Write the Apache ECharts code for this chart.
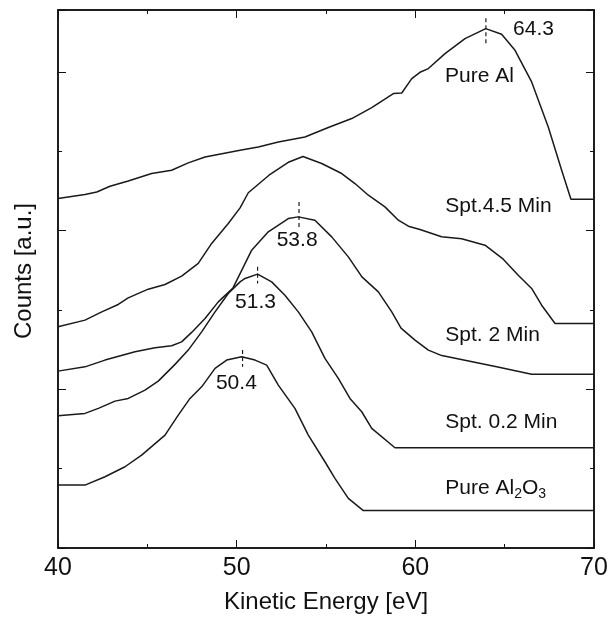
<!DOCTYPE html>
<html>
<head>
<meta charset="utf-8">
<script src="https://cdn.jsdelivr.net/npm/echarts@6/dist/echarts.min.js"></script>
<style>
  html, body { margin: 0; padding: 0; background: #fff; }
  #chart { width: 611px; height: 621px; }
</style>
</head>
<body>
<div id="chart"></div>
<script>
// kinetic energy (eV) and counts (a.u., offset stacked)
const pureAlEnergy = [40.0, 41.51, 42.17, 42.91, 43.93, 45.24, 46.36, 47.29, 48.23, 50.19, 51.21, 52.33, 53.82, 55.13, 56.44, 57.56, 58.77, 59.24, 59.80, 60.26, 60.73, 61.66, 62.78, 63.94, 64.83, 65.58, 66.51, 67.44, 68.19, 68.71, 70.0];
const pureAlCounts = [4.404, 4.455, 4.487, 4.559, 4.626, 4.719, 4.761, 4.853, 4.928, 5.013, 5.054, 5.117, 5.180, 5.299, 5.412, 5.550, 5.727, 5.734, 5.916, 5.995, 6.042, 6.230, 6.420, 6.545, 6.474, 6.272, 5.873, 5.306, 4.761, 4.395, 4.395];

const spt45Energy = [40.0, 41.51, 42.45, 43.37, 43.93, 45.05, 45.99, 46.92, 47.85, 48.60, 49.53, 50.19, 50.65, 51.81, 52.93, 53.71, 54.76, 55.88, 56.62, 57.37, 58.30, 59.05, 59.61, 60.26, 61.47, 62.59, 63.90, 64.92, 65.76, 66.51, 67.07, 67.82, 70.0];
const spt45Counts = [2.787, 2.872, 2.976, 3.069, 3.152, 3.262, 3.321, 3.426, 3.586, 3.838, 4.089, 4.286, 4.477, 4.698, 4.865, 4.933, 4.845, 4.719, 4.593, 4.446, 4.299, 4.131, 4.055, 4.014, 3.923, 3.898, 3.816, 3.640, 3.438, 3.271, 3.060, 2.830, 2.830];

const spt2Energy = [40.0, 41.51, 42.63, 44.31, 45.43, 46.36, 46.92, 47.48, 48.23, 48.97, 49.79, 50.84, 51.77, 52.89, 53.45, 54.38, 55.32, 56.25, 57.01, 57.93, 58.68, 59.20, 59.98, 60.73, 61.48, 64.55, 66.51, 70.0];
const spt2Counts = [2.229, 2.283, 2.368, 2.472, 2.523, 2.548, 2.598, 2.717, 2.893, 3.102, 3.275, 3.753, 3.984, 4.152, 4.173, 4.131, 3.921, 3.669, 3.417, 3.228, 2.976, 2.771, 2.620, 2.494, 2.425, 2.283, 2.189, 2.189];

const spt02Energy = [40.0, 41.51, 42.26, 43.19, 43.93, 44.87, 45.61, 46.55, 47.29, 48.04, 48.79, 49.53, 50.19, 50.47, 51.17, 51.96, 52.70, 53.45, 54.20, 54.94, 55.69, 56.34, 57.00, 57.56, 58.86, 70.0];
const spt02Counts = [1.666, 1.696, 1.759, 1.851, 1.885, 1.990, 2.103, 2.314, 2.494, 2.724, 2.976, 3.208, 3.354, 3.397, 3.451, 3.354, 3.186, 2.976, 2.724, 2.389, 2.137, 1.885, 1.717, 1.508, 1.263, 1.263];

const al2o3Energy = [40.0, 41.51, 42.63, 43.75, 44.68, 45.99, 46.73, 47.39, 48.04, 48.79, 49.44, 50.28, 51.03, 51.68, 52.33, 53.26, 54.01, 54.94, 55.50, 56.25, 57.09, 70.0];
const al2o3Counts = [0.793, 0.793, 0.898, 1.024, 1.171, 1.423, 1.675, 1.885, 2.031, 2.263, 2.368, 2.409, 2.368, 2.305, 2.053, 1.759, 1.423, 1.087, 0.878, 0.626, 0.472, 0.472];

// peak markers (dashed ticks) and their values
const peakEnergy = [63.95, 53.49, 51.17, 50.33];
const peakTop = [6.675, 4.361, 3.543, 2.494];
const peakBottom = [6.36, 4.03, 3.334, 2.283];
const peakText = ['64.3', '53.8', '51.3', '50.4'];
const peakTextEnergy = [65.47, 52.24, 49.91, 48.84];
const peakTextCounts = [6.537, 3.879, 3.098, 2.074];

// curve names
const curveNames = ['Pure Al', 'Spt.4.5 Min', 'Spt. 2 Min', 'Spt. 0.2 Min', '{n|Pure Al}{s|2}{n|O}{s|3}'];
const curveLabelEnergy = [61.66, 61.68, 61.68, 61.68, 61.68];
const curveLabelCounts = [5.945, 4.307, 2.683, 1.591, 0.752];

const yMax = 6.78;
const font = '"Liberation Sans", Arial, Helvetica, sans-serif';
const ink = '#111';

const zip = (xs, ys) => xs.map((x, i) => [x, ys[i]]);

const curves = [
  zip(pureAlEnergy, pureAlCounts),
  zip(spt45Energy, spt45Counts),
  zip(spt2Energy, spt2Counts),
  zip(spt02Energy, spt02Counts),
  zip(al2o3Energy, al2o3Counts)
];

const chart = echarts.init(document.getElementById('chart'), null, { renderer: 'canvas' });

const axisLine = { show: true, onZero: false, lineStyle: { color: ink, width: 1.5 } };
const tickStyle = { color: ink, width: 1 };

const xBase = (position, withLabels) => ({
  type: 'value',
  min: 40,
  max: 70,
  interval: 10,
  position,
  axisLine,
  axisTick: { show: true, inside: true, length: 8, lineStyle: tickStyle },
  minorTick: { show: true, splitNumber: 2, length: 4, lineStyle: tickStyle },
  splitLine: { show: false },
  minorSplitLine: { show: false },
  axisLabel: withLabels
    ? { show: true, fontSize: 25, color: ink, fontFamily: font, margin: 8 }
    : { show: false }
});

const yBase = (position, interval, len, showLine) => ({
  type: 'value',
  min: 0,
  max: yMax,
  interval,
  position,
  offset: 0,
  axisLine: showLine ? axisLine : { show: false, onZero: false },
  axisTick: { show: true, inside: true, length: len, lineStyle: tickStyle },
  axisLabel: { show: false },
  splitLine: { show: false }
});

const xBottom = Object.assign(xBase('bottom', true), {
  name: 'Kinetic Energy [eV]',
  nameLocation: 'middle',
  nameGap: 42,
  nameTextStyle: { fontSize: 24, color: ink, fontFamily: font }
});

const yLeft = Object.assign(yBase('left', 2, 8, true), {
  name: 'Counts [a.u.]',
  nameLocation: 'middle',
  nameGap: 22,
  nameTextStyle: { fontSize: 24, color: ink, fontFamily: font, padding: [0, 0, 0, 16] }
});

const series = [];

curves.forEach((data) => {
  series.push({
    type: 'line',
    data,
    showSymbol: false,
    symbol: 'none',
    silent: true,
    lineStyle: { color: '#1a1a1a', width: 1.5 }
  });
});

peakEnergy.forEach((e, i) => {
  series.push({
    type: 'line',
    data: [[e, peakTop[i]], [e, peakBottom[i]]],
    symbol: 'none',
    silent: true,
    lineStyle: { color: '#1a1a1a', width: 1.2, type: [4, 3] }
  });
});

const labelRich = {
  n: { fontSize: 21, color: ink, fontFamily: font },
  s: { fontSize: 14, color: ink, fontFamily: font, padding: [12, 0, 0, 0] }
};

series.push({
  type: 'scatter',
  symbolSize: 0,
  silent: true,
  itemStyle: { color: ink },
  label: {
    show: true,
    position: 'right',
    distance: 0,
    fontSize: 21,
    color: ink,
    opacity: 1,
    fontFamily: font,
    formatter: (p) => p.data.text,
    rich: labelRich
  },
  data: peakText.map((t, i) => ({ value: [peakTextEnergy[i], peakTextCounts[i]], text: t }))
    .concat(curveNames.map((t, i) => ({ value: [curveLabelEnergy[i], curveLabelCounts[i]], text: t })))
});

chart.setOption({
  animation: false,
  backgroundColor: '#fff',
  grid: { left: 58, right: 17, top: 10, bottom: 73, show: true, borderColor: ink, borderWidth: 1.5, backgroundColor: 'transparent' },
  xAxis: [xBottom, xBase('top', false)],
  yAxis: [yLeft, yBase('left', 1, 4, false), yBase('right', 2, 8, true), yBase('right', 1, 4, false)],
  series
});
</script>
</body>
</html>
